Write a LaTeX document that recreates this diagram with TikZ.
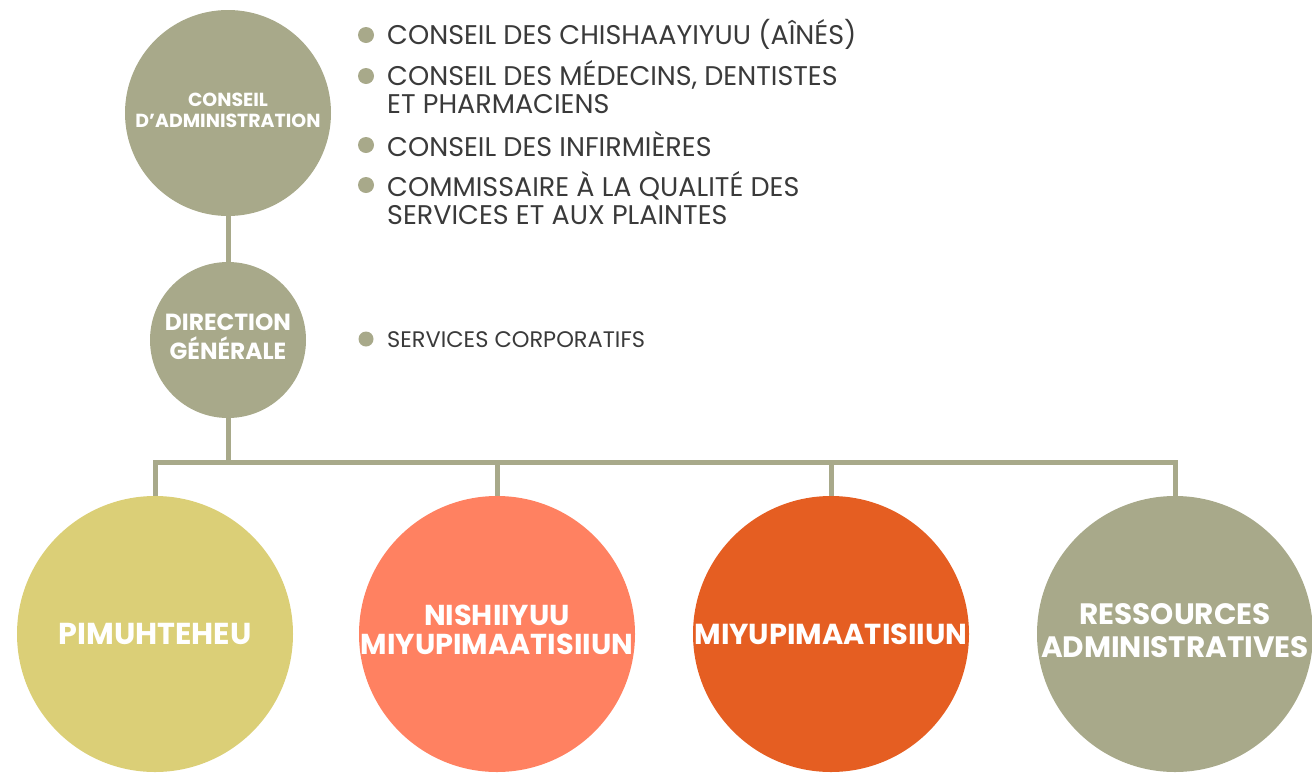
\documentclass[tikz,border=0pt]{standalone}
\usepackage{fontspec}
\setmainfont{Poppins}
\definecolor{olive}{HTML}{A8A98A}
\definecolor{mustard}{HTML}{DBCF77}
\definecolor{salmon}{HTML}{FF8161}
\definecolor{rust}{HTML}{E55E22}
\definecolor{txt}{HTML}{3A3A3A}
\newcommand{\twolines}[3]{{\renewcommand{\arraystretch}{#1}\begin{tabular}{@{}c@{}}#2\\#3\end{tabular}}}
\tikzset{
  bubble/.style={circle, inner sep=0pt, text=white, align=center, font=\bfseries},
  link/.style={draw=olive, line width=5pt},
  dot/.style={circle, fill=olive, inner sep=0pt, minimum size=16pt},
  item/.style={anchor=west, text=txt, align=left, inner sep=0pt, font=\fontsize{27}{28}\selectfont},
}
\begin{document}
\begin{tikzpicture}[x=1pt,y=-1pt]
\useasboundingbox (0,0) rectangle (1312,772);
\clip (0,0) rectangle (1312,772);
% circles
\node[bubble, fill=olive, minimum size=206pt] (ca) at (228,113) {};
\node[bubble, fill=olive, minimum size=156pt] (dg) at (228,340) {};
\coordinate (hub) at (228,462);
\coordinate (b1) at (155,462);
\coordinate (b4) at (1175,462);
\node[bubble, fill=mustard, minimum size=276pt] (p1) at (155,634) {};
\node[bubble, fill=salmon, minimum size=276pt] (p2) at (497,634) {};
\node[bubble, fill=rust, minimum size=276pt] (p3) at (831,634) {};
\node[bubble, fill=olive, minimum size=276pt] (p4) at (1175,634) {};
% connectors
\draw[link] (ca.south) -- (dg.north);
\draw[link] (dg.south) -- (hub);
\draw[link, line cap=rect] (b1) -- (b4);
\draw[link] (b1) -- (p1.north);
\draw[link] (p2.north |- hub) -- (p2.north);
\draw[link] (p3.north |- hub) -- (p3.north);
\draw[link] (b4) -- (p4.north);
% labels
\node[bubble] at (ca) {\resizebox{185pt}{!}{\twolines{0.9}{CONSEIL}{D’ADMINISTRATION}}};
\node[bubble] at (dg) {\resizebox{126pt}{!}{\twolines{0.8}{DIRECTION}{GÉNÉRALE}}};
\node[bubble] at (p1) {\resizebox{193pt}{!}{PIMUHTEHEU}};
\node[bubble] at (p2) {\resizebox{272pt}{!}{\twolines{0.86}{NISHIIYUU}{MIYUPIMAATISIIUN}}};
\node[bubble] at (p3) {\resizebox{273pt}{!}{MIYUPIMAATISIIUN}};
\node[bubble] at (p4) {\resizebox{268pt}{!}{\twolines{0.94}{RESSOURCES}{ADMINISTRATIVES}}};
% bullet list
\node[dot] (d1) at (366,35) {};
\node[dot] (d2) at (366,76) {};
\node[dot] (d3) at (366,145) {};
\node[dot] (d4) at (366,185) {};
\node[dot, minimum size=15pt] (d5) at (366,339) {};
\node[item] (t1) at (387,34) {CONSEIL DES CHISHAAYIYUU (AÎNÉS)};
\node[item] (t2) at (387,87) {CONSEIL DES MÉDECINS, DENTISTES\\ET PHARMACIENS};
\node[item] (t3) at (387,144) {CONSEIL DES INFIRMIÈRES};
\node[item] (t4) at (387,198) {COMMISSAIRE À LA QUALITÉ DES\\SERVICES ET AUX PLAINTES};
\node[item, font=\fontsize{22.5}{24}\selectfont] (t5) at (387,340) {SERVICES CORPORATIFS};
\end{tikzpicture}
\end{document}
